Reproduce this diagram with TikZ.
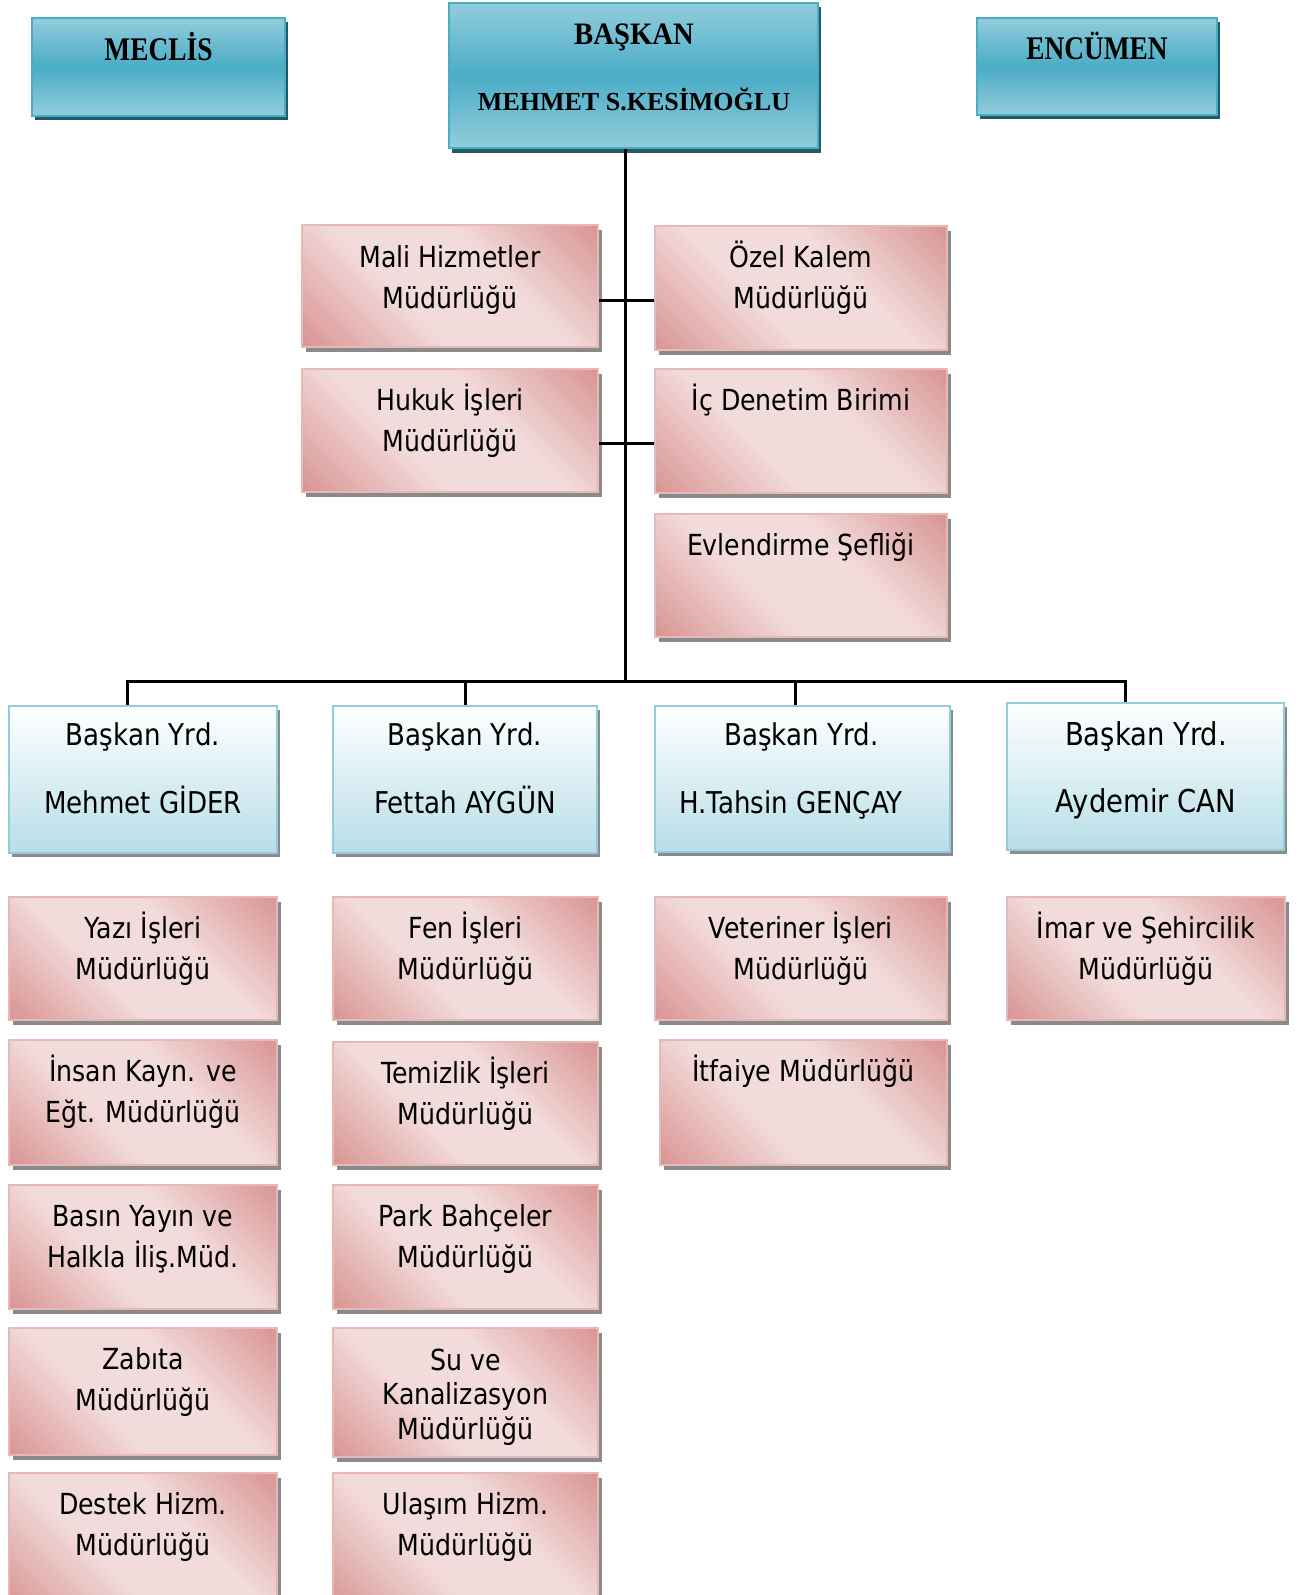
\documentclass[tikz,border=0pt]{standalone}
\usepackage{fontspec}
\setmainfont{DejaVu Sans}[FakeStretch=0.87]
\newfontfamily\hdrfont{Liberation Serif}[FakeStretch=0.83]
\newfontfamily\hdrfontm{Liberation Serif}[FakeStretch=0.92]
\newfontfamily\hdrfontw{Liberation Serif}
\usetikzlibrary{fit,shadows}
\definecolor{pkD}{HTML}{D99594}
\definecolor{pkL}{HTML}{F2DCDB}
\definecolor{pkB}{HTML}{E6B9B8}
\definecolor{tbL}{HTML}{92CDDC}
\definecolor{tbD}{HTML}{4BACC6}
\definecolor{tbS}{HTML}{215968}
\definecolor{ybB}{HTML}{92CDDC}
\definecolor{ybBot}{HTML}{B7DEE8}
\definecolor{shG}{HTML}{8A8A8A}
\pgfdeclarehorizontalshading{pinkdiag}{100bp}{color(0bp)=(pkD); color(15bp)=(pkD); color(40bp)=(pkL); color(60bp)=(pkL); color(85bp)=(pkD); color(100bp)=(pkD)}
\pgfdeclareverticalshading{topblue}{100bp}{color(0bp)=(tbL); color(25bp)=(tbL); color(50bp)=(tbD); color(75bp)=(tbL); color(100bp)=(tbL)}
\newcommand\twoline[2]{\begin{tabular}[t]{@{}c@{}}#1\\#2\end{tabular}}
\newcommand\threeline[3]{\begin{tabular}[t]{@{}c@{}}#1\\#2\\#3\end{tabular}}
\tikzset{
  topbox/.style={draw=tbD, line width=1pt, shading=topblue, inner sep=0pt,
    general shadow={fill=tbS, shadow xshift=1.5pt, shadow yshift=-2.25pt}},
  yrdbox/.style={draw=ybB, line width=1pt, top color=white, bottom color=ybBot, inner sep=0pt,
    general shadow={fill=shG, shadow xshift=1.5pt, shadow yshift=-2pt}},
  pinkbox/.style={draw=pkB, line width=1pt, shading=pinkdiag, shading angle=45, inner sep=0pt,
    general shadow={fill=shG, shadow xshift=1.75pt, shadow yshift=-2.25pt}},
  hdr/.style={anchor=base, inner sep=0pt, font=\hdrfont\bfseries\fontsize{16.5}{18}\selectfont},
  hdrm/.style={anchor=base, inner sep=0pt, font=\hdrfontm\bfseries\fontsize{15.6}{18}\selectfont},
  hdrw/.style={anchor=base, inner sep=0pt, font=\hdrfontw\bfseries\fontsize{13}{16}\selectfont},
  ptext/.style={anchor=base, inner sep=0pt, font=\fontsize{14.5}{20.5}\selectfont},
  ptextc/.style={anchor=base, inner sep=0pt, font=\fontsize{14.5}{17.25}\selectfont},
  ytext/.style={anchor=base, inner sep=0pt, font=\fontsize{15}{17}\selectfont},
  ytextb/.style={anchor=base, inner sep=0pt, font=\fontsize{15.75}{18}\selectfont},
  conn/.style={line width=1.5pt, black},
}
\begin{document}
\begin{tikzpicture}[x=0.5pt,y=-0.5pt]
\useasboundingbox (0,0) rectangle (1300,1595);

% ---- top row
\node[topbox, fit={(32,18) (285,116)}] (meclis) {};
\node[topbox, fit={(449,3) (818,148)}] (baskan) {};
\node[topbox, fit={(977,18) (1217,115)}] (encumen) {};
\node[hdr] (meclisT) at (158.5,60.5) {MECLİS};
\node[hdrm] (baskanT) at (634,45) {BAŞKAN};
\node[hdrw] (adT) at (634,111) {MEHMET S.KESİMOĞLU};
\node[hdr] (encumenT) at (1097,60) {ENCÜMEN};

% ---- staff units
\node[pinkbox, fit={(302,225) (598,347)}] (mali) {};
\node[ptext] (maliT) at (450,267) {\twoline{Mali Hizmetler}{Müdürlüğü}};
\node[pinkbox, fit={(655,226) (947,350)}] (ozel) {};
\node[ptext] (ozelT) at (801,267) {\twoline{Özel Kalem}{Müdürlüğü}};
\node[pinkbox, fit={(302,369) (598,492)}] (hukuk) {};
\node[ptext] (hukukT) at (450,410) {\twoline{Hukuk İşleri}{Müdürlüğü}};
\node[pinkbox, fit={(655,369) (947,493)}] (icden) {};
\node[ptext] (icdenT) at (801,410) {İç Denetim Birimi};
\node[pinkbox, fit={(655,514) (947,637)}] (evlen) {};
\node[ptext] (evlenT) at (801,555) {Evlendirme Şefliği};

% ---- deputy mayors
\node[yrdbox, fit={(9,706) (277,853)}] (y1) {};
\node[ytext] (y1a) at (143,745) {Başkan Yrd.};
\node[ytext] (y1b) at (143,813) {Mehmet GİDER};
\node[yrdbox, fit={(333,706) (597,853)}] (y2) {};
\node[ytext] (y2a) at (465,745) {Başkan Yrd.};
\node[ytext] (y2b) at (465,813) {Fettah AYGÜN};
\node[yrdbox, fit={(655,706) (950,852)}] (y3) {};
\node[ytext] (y3a) at (801.5,745) {Başkan Yrd.};
\node[ytext] (y3b) at (791,813) {H.Tahsin GENÇAY};
\node[yrdbox, fit={(1007,703) (1284,850)}] (y4) {};
\node[ytextb] (y4a) at (1146,745) {Başkan Yrd.};
\node[ytextb] (y4b) at (1146,812) {Aydemir CAN};

% ---- column 1
\node[pinkbox, fit={(9,897) (277,1020)}] (c1r1) {};
\node[ptext] (c1r1T) at (143,938) {\twoline{Yazı İşleri}{Müdürlüğü}};
\node[pinkbox, fit={(9,1040) (277,1165)}] (c1r2) {};
\node[ptext] (c1r2T) at (143,1081) {\twoline{İnsan Kayn. ve}{Eğt. Müdürlüğü}};
\node[pinkbox, fit={(9,1185) (277,1309)}] (c1r3) {};
\node[ptext] (c1r3T) at (143,1226) {\twoline{Basın Yayın ve}{Halkla İliş.Müd.}};
\node[pinkbox, fit={(9,1328) (277,1455)}] (c1r4) {};
\node[ptext] (c1r4T) at (143,1369) {\twoline{Zabıta}{Müdürlüğü}};
\node[pinkbox, fit={(9,1473) (277,1610)}] (c1r5) {};
\node[ptext] (c1r5T) at (143,1514) {\twoline{Destek Hizm.}{Müdürlüğü}};

% ---- column 2
\node[pinkbox, fit={(333,897) (598,1020)}] (c2r1) {};
\node[ptext] (c2r1T) at (465.5,938) {\twoline{Fen İşleri}{Müdürlüğü}};
\node[pinkbox, fit={(333,1042) (598,1165)}] (c2r2) {};
\node[ptext] (c2r2T) at (465.5,1083) {\twoline{Temizlik İşleri}{Müdürlüğü}};
\node[pinkbox, fit={(333,1185) (598,1309)}] (c2r3) {};
\node[ptext] (c2r3T) at (465.5,1226) {\twoline{Park Bahçeler}{Müdürlüğü}};
\node[pinkbox, fit={(333,1328) (598,1457)}] (c2r4) {};
\node[ptextc] (c2r4T) at (465.5,1370) {\threeline{Su ve}{Kanalizasyon}{Müdürlüğü}};
\node[pinkbox, fit={(333,1473) (598,1610)}] (c2r5) {};
\node[ptext] (c2r5T) at (465.5,1514) {\twoline{Ulaşım Hizm.}{Müdürlüğü}};

% ---- column 3
\node[pinkbox, fit={(655,897) (947,1020)}] (c3r1) {};
\node[ptext] (c3r1T) at (801,938) {\twoline{Veteriner İşleri}{Müdürlüğü}};
\node[pinkbox, fit={(660,1040) (947,1165)}] (c3r2) {};
\node[ptext] (c3r2T) at (803.5,1081) {İtfaiye Müdürlüğü};

% ---- column 4
\node[pinkbox, fit={(1007,897) (1285,1020)}] (c4r1) {};
\node[ptext] (c4r1T) at (1146,938) {\twoline{İmar ve Şehircilik}{Müdürlüğü}};

% ---- connectors
\coordinate (trunk) at (625.5,400);
\coordinate (b1) at (127,681.5);
\coordinate (b2) at (465,681.5);
\coordinate (b3) at (795.5,681.5);
\coordinate (b4) at (1125,681.5);
\coordinate (h1) at (600,300);
\coordinate (h2) at (600,443);
\draw[conn] (baskan.south -| trunk) -- (trunk |- b1);
\draw[conn] (mali.east |- h1) -- (ozel.west |- h1);
\draw[conn] (hukuk.east |- h2) -- (icden.west |- h2);
\draw[conn] (b1 |- y1.north) -- (b1) -- (b4) -- (b4 |- y4.north);
\draw[conn] (b2) -- (b2 |- y2.north);
\draw[conn] (b3) -- (b3 |- y3.north);
\end{tikzpicture}
\end{document}
